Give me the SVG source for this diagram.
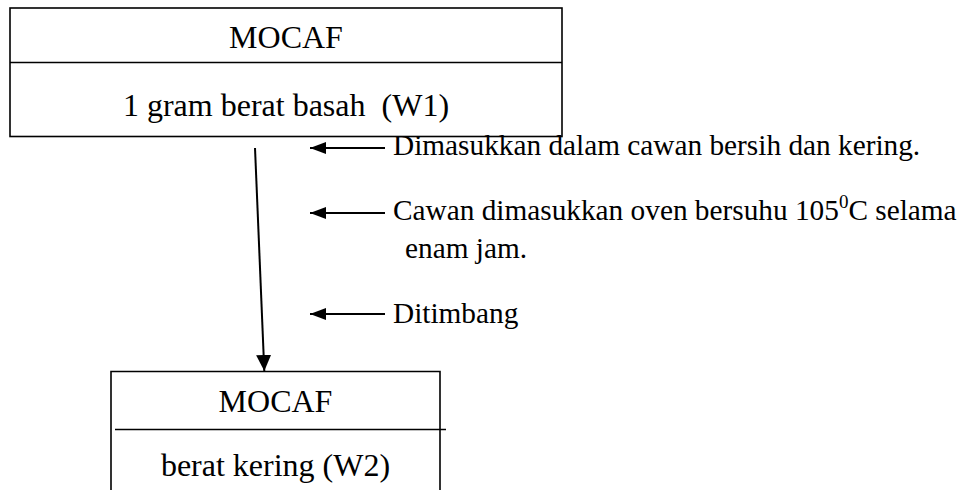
<svg xmlns="http://www.w3.org/2000/svg" width="966" height="490" viewBox="0 0 966 490">
<style>
.t{font-family:"Liberation Serif","Times New Roman",serif;fill:#000;white-space:pre}
.b{font-size:32px;text-anchor:middle}
.s{font-size:29.3px}
.box{fill:none;stroke:#000;stroke-width:1.6}
.con{fill:none;stroke:#000;stroke-width:2}
</style>
<defs>
<marker id="ahDown" markerUnits="userSpaceOnUse" viewBox="0 0 16 15" refX="16" refY="7.5" markerWidth="16" markerHeight="15" orient="auto">
<path d="M0,0 L16,7.5 L0,15 z" fill="#000"/>
</marker>
<marker id="ahLeft" markerUnits="userSpaceOnUse" viewBox="0 0 16 12" refX="16" refY="6" markerWidth="16" markerHeight="12" orient="auto">
<path d="M0,0 L16,6 L0,12 z" fill="#000"/>
</marker>
</defs>
<rect width="966" height="490" fill="#fff"/>
<g id="node-top">
<rect class="box" x="10" y="8" width="552" height="128.5"/>
<line class="box" x1="10" y1="62.5" x2="562" y2="62.5"/>
<text class="t b" x="286" y="47.5">MOCAF</text>
<text class="t b" x="286" y="116">1 gram berat basah  (W1)</text>
</g>
<g id="node-bottom">
<path class="box" d="M111,492 V371.5 H440 V492"/>
<line class="box" x1="115" y1="429.5" x2="446" y2="429.5"/>
<text class="t b" x="275.5" y="412">MOCAF</text>
<text class="t b" x="275.5" y="476">berat kering (W2)</text>
</g>
<g id="connectors">
<line class="con" x1="255" y1="148" x2="264.3" y2="371" marker-end="url(#ahDown)"/>
<line class="con" x1="385" y1="148" x2="310" y2="148" marker-end="url(#ahLeft)"/>
<line class="con" x1="385" y1="213" x2="310" y2="213" marker-end="url(#ahLeft)"/>
<line class="con" x1="385" y1="314" x2="310" y2="314" marker-end="url(#ahLeft)"/>
</g>
<g id="labels">
<text class="t s" x="393" y="155">Dimasukkan dalam cawan bersih dan kering.</text>
<text class="t s" x="393" y="220">Cawan dimasukkan oven bersuhu 105<tspan font-size="19" dy="-12">0</tspan><tspan dy="12">C selama</tspan></text>
<text class="t s" x="405" y="258">enam jam.</text>
<text class="t s" x="393" y="323">Ditimbang</text>
</g>
</svg>
